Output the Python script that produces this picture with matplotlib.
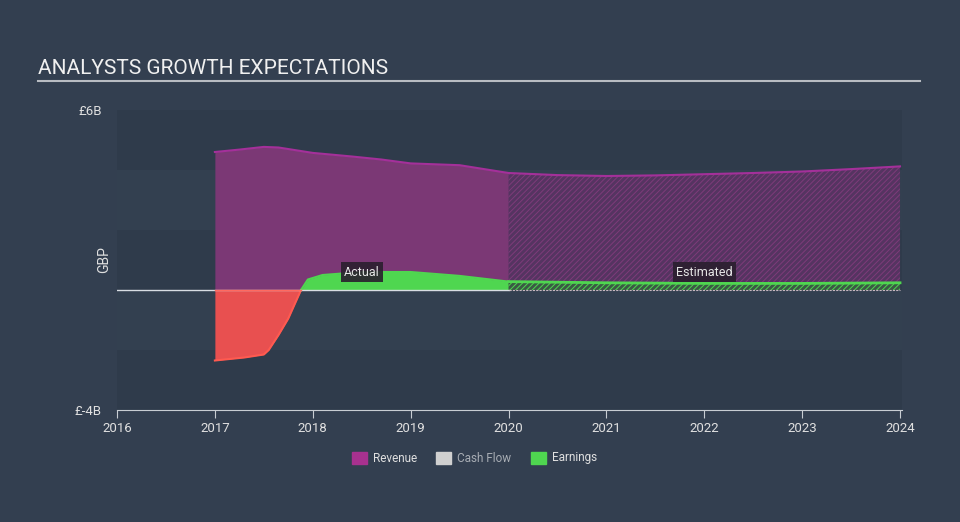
import numpy as np
import matplotlib.pyplot as plt

plt.rcParams['font.family'] = ['Roboto', 'DejaVu Sans']
plt.rcParams['hatch.linewidth'] = 0.7

# data (GBP billions)
rev_years = [2017.0, 2017.25, 2017.5, 2017.65, 2018.0, 2018.4, 2018.7, 2019.0, 2019.5, 2020.0,
             2020.5, 2021.0, 2021.5, 2022.0, 2022.5, 2023.0, 2023.5, 2024.0]
revenue = [4.6, 4.68, 4.77, 4.75, 4.57, 4.45, 4.35, 4.22, 4.16, 3.9,
           3.83, 3.8, 3.82, 3.86, 3.9, 3.95, 4.03, 4.12]

earn_years = [2017.0, 2017.3, 2017.5, 2017.55, 2017.65, 2017.75, 2017.88, 2017.95, 2018.1,
              2018.5, 2019.0, 2019.5, 2020.0, 2021.0, 2022.0, 2023.0, 2024.0]
earnings = [-2.35, -2.25, -2.15, -2.0, -1.5, -0.95, 0.0, 0.35, 0.5,
            0.6, 0.6, 0.47, 0.28, 0.24, 0.22, 0.22, 0.24]

forecast_start = 2020.0
y_ticks = [6, -4]
y_tick_labels = ['£6B', '£-4B']
x_ticks = list(range(2016, 2025))

bg = '#333f50'
fig = plt.figure(figsize=(9.6, 5.22), dpi=100, facecolor=bg)
ax = fig.add_axes([117/960, 1-410/522, (902-117)/960, 300/522])
ax.set_facecolor(bg)

# alternating horizontal bands (subtle)
for i, lo in enumerate(range(-4, 6, 2)):
    c = '#2f3b4b' if i % 2 == 0 else '#334050'
    ax.axhspan(lo, lo+2, color=c, lw=0, zorder=0)

ry = np.array(rev_years); rv = np.array(revenue)
ey = np.array(earn_years); ev = np.array(earnings)

# revenue
ax.fill_between(ry, 0, rv, where=ry <= forecast_start, color='#7b3875', lw=0, zorder=2)
mf = ry >= forecast_start
ax.fill_between(ry[mf], 0, rv[mf], facecolor='#553461', edgecolor='#7e3b7a', hatch='//////', lw=0, zorder=2)
ax.plot(ry, rv, color='#a4309a', lw=1.5, zorder=3)

# earnings
ea = ey <= forecast_start
ax.fill_between(ey[ea], 0, ev[ea], where=ev[ea] >= 0, interpolate=True, color='#4fd650', lw=0, zorder=4)
ax.fill_between(ey[ea], 0, ev[ea], where=ev[ea] <= 0, interpolate=True, color='#e85050', lw=0, zorder=4)
ax.plot(ey[ea & (ev <= 0)], ev[ea & (ev <= 0)], color='#ff5a50', lw=1.5, zorder=5)
ax.plot(ey[ea & (ev >= 0)], ev[ea & (ev >= 0)], color='#4fd650', lw=1.5, zorder=5)
ef = ey >= forecast_start
ax.fill_between(ey[ef], 0, ev[ef], facecolor='#3a5a44', edgecolor='#4fd650', hatch='//////', lw=0, zorder=4)
ax.plot(ey[ef], ev[ef], color='#4fd650', lw=2, zorder=5)

ax.set_xlim(2016, 2024.02)
ax.set_ylim(-4, 6)

# zero line
ax.plot([2016, forecast_start], [0, 0], color='#d8dde3', lw=1, zorder=6)
ax.plot([2017, 2017.88], [0, 0], color='#ff6a60', lw=1, zorder=6)
ax.plot([forecast_start, 2024.0], [0, 0], color='#c8b8c0', lw=0.8, ls=(0, (2, 1)), zorder=6)

# labels
box = dict(boxstyle='square,pad=0.25', facecolor='#2a1f2e', edgecolor='none', alpha=0.9)
ax.text(2018.5, 0.6, 'Actual', color='#e6e6e6', fontsize=9, ha='center', va='center', bbox=box, zorder=7)
ax.text(2022.0, 0.6, 'Estimated', color='#e6e6e6', fontsize=9, ha='center', va='center', bbox=box, zorder=7)

for s in ['top', 'right', 'left']:
    ax.spines[s].set_visible(False)
ax.spines['bottom'].set_color('#c8cdd3')
ax.set_xticks(x_ticks)
ax.set_xticklabels([str(x) for x in x_ticks])
ax.tick_params(axis='x', colors='#c8cdd3', labelcolor='#e0e0e0', length=6, labelsize=9.5, pad=3)
ax.set_yticks(y_ticks)
ax.set_yticklabels(y_tick_labels)
ax.tick_params(axis='y', length=0, labelcolor='#e0e0e0', labelsize=9.5, pad=11)
ax.set_ylabel('GBP', color='#e0e0e0', fontsize=10, labelpad=2)
ax.yaxis.set_label_coords(-0.008, 0.5)

# title
fig.text(38/960, 1-68/522, 'ANALYSTS GROWTH EXPECTATIONS', color='#f0f0f0', fontsize=15, va='center', ha='left')
fig.add_artist(plt.Line2D([38/960, 920/960], [1-81/522, 1-81/522], color='#b8bcc2', lw=1.5))

# legend
items = [('Revenue', '#a8318f', 352), ('Cash Flow', '#d0d0d0', 436), ('Earnings', '#4fd650', 531)]
for name, col, xp in items:
    fig.patches.append(plt.Rectangle((xp/960, 1-464/522), 15/960, 12/522, color=col, transform=fig.transFigure))
    fig.text((xp+21)/960, 1-458/522, name, color='#e0e0e0' if name != 'Cash Flow' else '#a8adb4',
             fontsize=8.5, va='center', ha='left')

fig.savefig('out.png', dpi=100, facecolor=bg)
